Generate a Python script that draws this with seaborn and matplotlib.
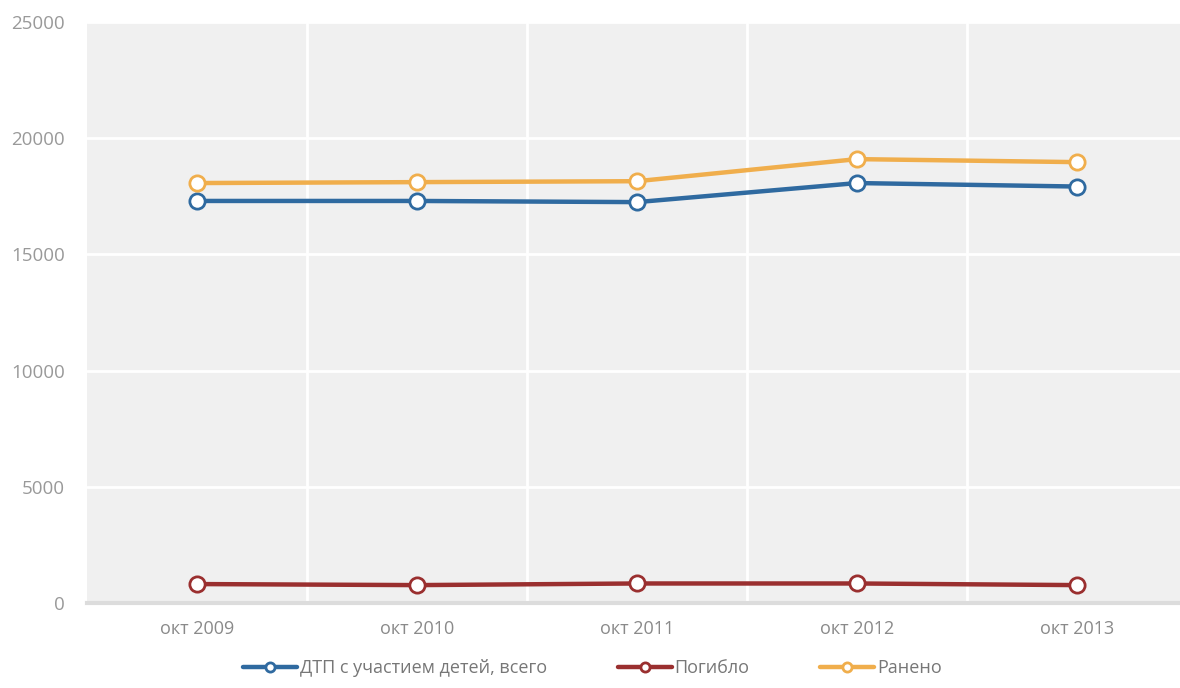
import pandas as pd
import numpy as np
import matplotlib
matplotlib.use("Agg")
import matplotlib.pyplot as plt
import seaborn as sns

# data
periods = ["окт 2009", "окт 2010", "окт 2011", "окт 2012", "окт 2013"]
series_names = ["ДТП с участием детей, всего", "Погибло", "Ранено"]
dtp_total = [17300, 17300, 17250, 18070, 17920]
killed = [815, 770, 840, 840, 770]
injured = [18070, 18110, 18150, 19100, 18970]
y_ticks = [0, 5000, 10000, 15000, 20000, 25000]

colors = ["#2f6aa0", "#9a2f2f", "#f0ae4c"]

sns.set_theme(style="white")
plt.rcParams["font.family"] = ["Open Sans", "DejaVu Sans"]

df = pd.DataFrame({
    "x": list(range(len(periods))) * 3,
    "value": dtp_total + killed + injured,
    "series": np.repeat(series_names, len(periods)),
})

fig = plt.figure(figsize=(11.8, 6.88), dpi=100)
ax = fig.add_axes([87 / 1180, 1 - 603 / 688, 1100 / 1180, 581 / 688])
ax.set_facecolor("#f0f0f0")

for name, col in zip(series_names, colors):
    sub = df[df["series"] == name]
    sns.lineplot(data=sub, x="x", y="value", ax=ax, color=col, lw=3.2,
                 marker="o", markersize=11, markerfacecolor="white",
                 markeredgecolor=col, markeredgewidth=2, label=name,
                 legend=False, zorder=3)

ax.set_xlim(-0.5, len(periods) - 0.5)
ax.set_ylim(0, 25000)
ax.set_xticks(range(len(periods)))
ax.set_xticklabels(periods)
ax.set_xticks(np.arange(-0.5, len(periods), 1.0), minor=True)
ax.set_yticks(y_ticks)
ax.set_yticklabels([str(v) for v in y_ticks])

ax.grid(False)
for v in y_ticks[1:]:
    ax.axhline(v, color="white", lw=2, zorder=1)
for v in np.arange(0.5, len(periods) - 0.5, 1.0):
    ax.axvline(v, color="white", lw=2, zorder=1)

for s in ["top", "right", "left"]:
    ax.spines[s].set_visible(False)
ax.spines["bottom"].set_color("#dcdcdc")
ax.spines["bottom"].set_linewidth(3)

ax.tick_params(axis="x", which="major", length=0, pad=12, labelsize=13, labelcolor="#8a8a8a")
ax.tick_params(axis="x", which="minor", length=10, width=3.5, color="#cfcfcf", direction="inout")
ax.tick_params(axis="y", length=0, pad=16, labelsize=13.5, labelcolor="#999999")
ax.set_xlabel("")
ax.set_ylabel("")

handles, labels = ax.get_legend_handles_labels()
leg = fig.legend(handles, labels, loc="lower center", bbox_to_anchor=(0.502, -0.008),
                 ncol=3, frameon=False, fontsize=13, handlelength=3.0,
                 handletextpad=0.15, columnspacing=3.9, markerscale=0.6)
for t in leg.get_texts():
    t.set_color("#777777")

fig.savefig("out.png", dpi=100)
